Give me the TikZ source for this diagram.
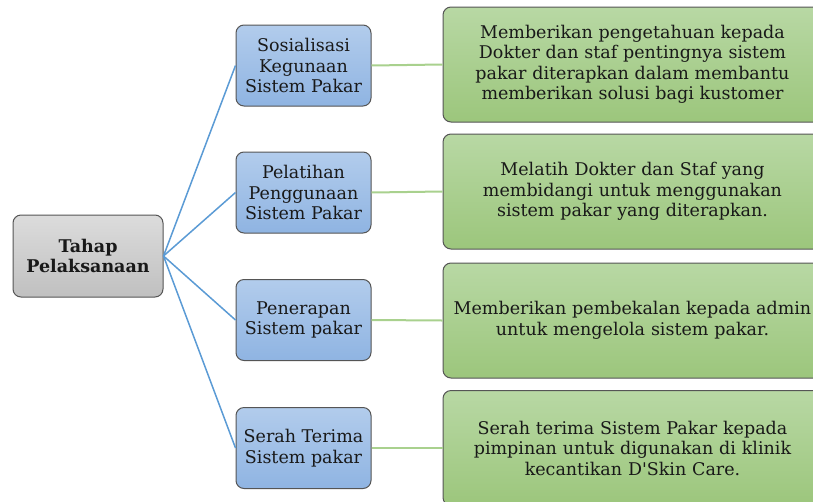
\documentclass[tikz,border=0pt]{standalone}
\usepackage{fontspec}
\setmainfont{DejaVu Serif}
\definecolor{edgeblue}{RGB}{91,155,213}
\definecolor{edgegreen}{RGB}{169,209,142}
\definecolor{bordergray}{RGB}{85,85,85}
\definecolor{bluetop}{RGB}{178,204,236}
\definecolor{bluebot}{RGB}{143,180,226}
\definecolor{greentop}{RGB}{184,216,164}
\definecolor{greenbot}{RGB}{156,198,124}
\definecolor{graytop}{RGB}{220,220,220}
\definecolor{graybot}{RGB}{192,192,192}
\definecolor{textdark}{RGB}{25,25,25}
\tikzset{
  box/.style={draw=bordergray, line width=1pt, rounded corners=8pt, inner sep=0pt,
    align=center, text=textdark, font=\fontsize{17.5}{20.5}\selectfont},
  rootbox/.style={box, top color=graytop, bottom color=graybot,
    minimum width=150pt, minimum height=82pt, font=\fontsize{17.5}{20.5}\selectfont\bfseries},
  phasebox/.style={box, top color=bluetop, bottom color=bluebot,
    minimum width=135pt, minimum height=81pt},
  descbox/.style={box, top color=greentop, bottom color=greenbot,
    minimum width=379pt, minimum height=115pt, text width=365pt},
  bluelink/.style={draw=edgeblue, line width=1.5pt},
  greenlink/.style={draw=edgegreen, line width=2pt}
}
\begin{document}
\begin{tikzpicture}[x=1pt,y=-1pt]
\clip (0,0) rectangle (813,501);
\fill[white] (0,0) rectangle (813,501);
\node[rootbox] (root) at (88,256) {Tahap\\Pelaksanaan};
\node[phasebox] (b1) at (303.5,65.5) {Sosialisasi\\Kegunaan\\Sistem Pakar};
\node[phasebox] (b2) at (303.5,192.5) {Pelatihan\\Penggunaan\\Sistem Pakar};
\node[phasebox] (b3) at (303.5,320) {Penerapan\\Sistem pakar};
\node[phasebox] (b4) at (303.5,448) {Serah Terima\\Sistem pakar};
\node[descbox] (g1) at (632.5,64.5) {Memberikan pengetahuan kepada\\Dokter dan staf pentingnya sistem\\pakar diterapkan dalam membantu\\memberikan solusi bagi kustomer};
\node[descbox] (g2) at (632.5,191.5) {Melatih Dokter dan Staf yang\\membidangi untuk menggunakan\\sistem pakar yang diterapkan.};
\node[descbox] (g3) at (632.5,320.5) {Memberikan pembekalan kepada admin\\untuk mengelola sistem pakar.};
\node[descbox] (g4) at (632.5,448) {Serah terima Sistem Pakar kepada\\pimpinan untuk digunakan di klinik\\kecantikan D\textquotesingle Skin Care.};
\foreach \i in {1,2,3,4}{
  \draw[bluelink] (root.east) -- (b\i.west);
  \draw[greenlink] (b\i.east) -- (g\i.west);
}
\end{tikzpicture}
\end{document}
